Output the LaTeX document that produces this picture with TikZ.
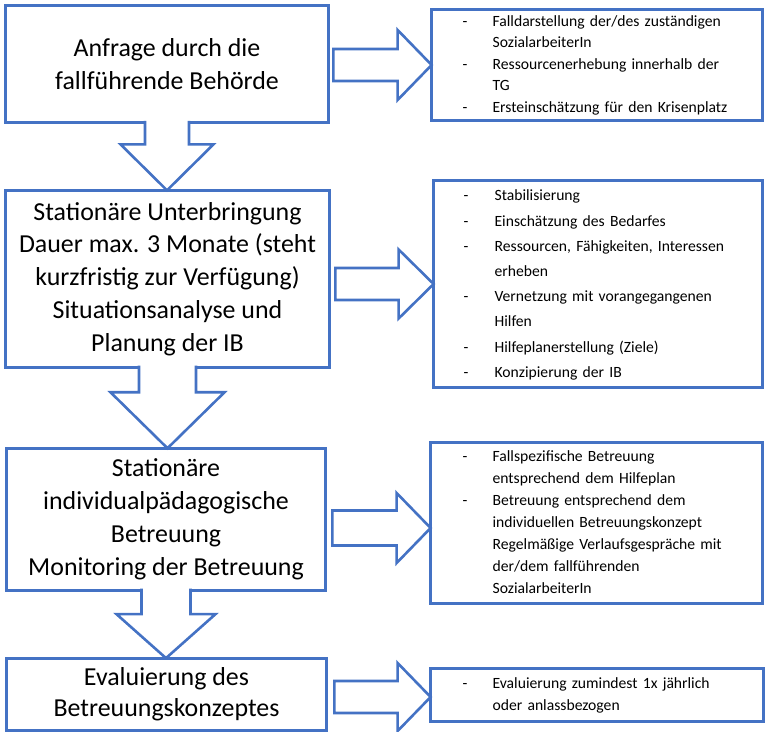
\documentclass[tikz,border=0pt]{standalone}
\usepackage{fontspec}
\setmainfont{Carlito}
\usetikzlibrary{calc}
\definecolor{boxblue}{RGB}{68,114,196}

\begin{document}
\begin{tikzpicture}[x=1bp, y=-1bp]
    \tikzset{
      stepbox/.style={draw=boxblue, line width=3bp, outer sep=0pt, inner sep=0pt, align=center, font=\fontsize{26}{33}\selectfont},
      notebox/.style={draw=boxblue, line width=3bp, outer sep=0pt, inner sep=0pt, align=left, font=\fontsize{15.7}{22}\selectfont},
      blockarrow/.style={draw=boxblue, line width=2.6bp, miter limit=20, fill=white}
    }
    \useasboundingbox (0,0) rectangle (768,732);

    % left column
    \draw (167,64) node (anfrage) [stepbox, minimum width=324, minimum height=118]
      {Anfrage durch die\\fallführende Behörde};
    \draw (167.5,279) node (unterbringung) [stepbox, minimum width=325, minimum height=178]
      {Stationäre Unterbringung\\Dauer max. 3 Monate (steht\\kurzfristig zur Verfügung)\\Situationsanalyse und\\Planung der IB};
    \draw (166,519.5) node (betreuung) [stepbox, minimum width=320, minimum height=143]
      {Stationäre\\individualpädagogische\\Betreuung\\Monitoring der Betreuung};
    \draw (166.5,694.5) node (evaluierung) [stepbox, minimum width=321, minimum height=73, font=\fontsize{26}{31}\selectfont]
      {Evaluierung des\\Betreuungskonzeptes};

    % right column
    \draw (597,65) node (anfrageinfo) [notebox, text width=332, minimum height=112, font=\fontsize{15.7}{21.5}\selectfont]
      {\begin{tabular}{@{\hspace{31bp}}p{30bp}@{}l@{}}
        - & Falldarstellung der/des zuständigen\\
          & SozialarbeiterIn\\
        - & Ressourcenerhebung innerhalb der\\
          & TG\\
        - & Ersteinschätzung für den Krisenplatz
      \end{tabular}};
    \draw (598,284) node (unterbringunginfo) [notebox, text width=330, minimum height=208, font=\fontsize{15.7}{25.3}\selectfont]
      {\begin{tabular}{@{\hspace{30bp}}p{31bp}@{}l@{}}
        - & Stabilisierung\\
        - & Einschätzung des Bedarfes\\
        - & Ressourcen, Fähigkeiten, Interessen\\
          & erheben\\
        - & Vernetzung mit vorangegangenen\\
          & Hilfen\\
        - & Hilfeplanerstellung (Ziele)\\
        - & Konzipierung der IB
      \end{tabular}};
    \draw (596.5,523) node (betreuunginfo) [notebox, text width=333, minimum height=162]
      {\begin{tabular}{@{\hspace{32bp}}p{30bp}@{}l@{}}
        - & Fallspezifische Betreuung\\
          & entsprechend dem Hilfeplan\\
        - & Betreuung entsprechend dem\\
          & individuellen Betreuungskonzept\\
          & Regelmäßige Verlaufsgespräche mit\\
          & der/dem fallführenden\\
          & SozialarbeiterIn
      \end{tabular}};
    \draw (597,695) node (evaluierunginfo) [notebox, text width=334, minimum height=54]
      {\begin{tabular}{@{\hspace{32bp}}p{30bp}@{}l@{}}
        - & Evaluierung zumindest 1x jährlich\\
          & oder anlassbezogen
      \end{tabular}};

    % arrows down
    \foreach \from/\to/\shaft/\head/\len in {anfrage/unterbringung/22/46.5/46,
        unterbringung/betreuung/28.5/57/56, betreuung/evaluierung/24.5/49.5/44}
      \draw[blockarrow] let \p1=(\from.south), \p2=(\to.north) in
        (\x1-\shaft bp,\y1+2bp) -- (\x1-\shaft bp,\y2+\len bp) -- (\x1-\head bp,\y2+\len bp)
        -- (\x1,\y2) -- (\x1+\head bp,\y2+\len bp) -- (\x1+\shaft bp,\y2+\len bp) -- (\x1+\shaft bp,\y1+2bp);

    % arrows right
    \foreach \from/\to/\gap/\shaft/\head/\len/\dy in {anfrage/anfrageinfo/5/16/35/34/0,
        unterbringung/unterbringunginfo/6/16/34.5/35/0, betreuung/betreuunginfo/7/17.5/35/34/-5,
        evaluierung/evaluierunginfo/8/16/34/33/-2}
      \draw[blockarrow] let \p1=(\from.east), \p2=(\to.west) in
        (\x1+\gap bp,\y2+\dy bp+\shaft bp) -- (\x2-\len bp,\y2+\dy bp+\shaft bp) -- (\x2-\len bp,\y2+\dy bp+\head bp)
        -- (\x2,\y2+\dy bp) -- (\x2-\len bp,\y2+\dy bp-\head bp) -- (\x2-\len bp,\y2+\dy bp-\shaft bp)
        -- (\x1+\gap bp,\y2+\dy bp-\shaft bp) -- cycle;

  \end{tikzpicture}
\end{document}
